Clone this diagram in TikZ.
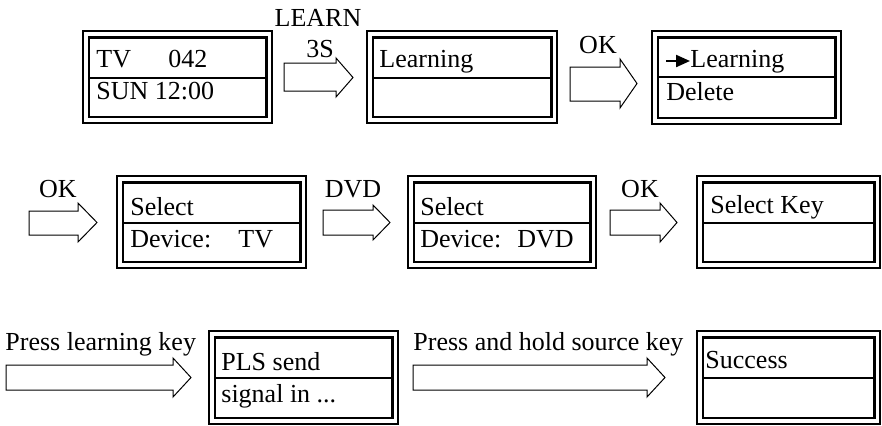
\documentclass[tikz,border=0pt]{standalone}
\usepackage{fontspec}
\setmainfont{Liberation Serif}
\usetikzlibrary{arrows.meta,fit}
\tikzset{
  outerln/.style={draw=black, line width=0.7pt},
  innerln/.style={draw=black, line width=1.1pt},
  divln/.style={draw=black, line width=1.0pt},
  blockarrow/.style={draw=black, line width=0.5pt, line join=miter},
  lbl/.style={inner sep=0pt, anchor=base, font=\fontsize{13}{15}\selectfont, text=black},
  txt/.style={inner sep=0pt, anchor=base west, font=\fontsize{13}{15}\selectfont, text=black},
}
% name, x1, y1, x2, y2, ydiv
\newcommand\lcdbox[6]{%
  \coordinate (#1-nw) at (#2,#3);
  \coordinate (#1-se) at (#4,#5);
  \node[fit=(#1-nw)(#1-se), inner sep=0pt, outer sep=0pt, outerln] (#1) {};
  \draw[innerln] ({#2+6},{#3+6.5}) rectangle ({#4-5.5},{#5-6});
  \draw[divln] ({#2+6},#6) -- ({#4-5.5},#6);
}
% left, bodyright, tip, bodytop, bodybottom, headtop, headbottom
\newcommand\barrow[7]{%
  \draw[blockarrow] (#1,#4) -- (#2,#4) -- (#2,#6) -- (#3,{(#6+#7)/2}) -- (#2,#7) -- (#2,#5) -- (#1,#5) -- cycle;
}
\begin{document}
\begin{tikzpicture}[x=0.5pt,y=-0.5pt]
\useasboundingbox (0,0) rectangle (882,425);
% boxes
\lcdbox{b1}{83}{31}{272}{123}{78}
\lcdbox{b2}{367}{31}{557}{123}{78}
\lcdbox{b3}{652}{31}{841}{124}{77}
\lcdbox{b4}{117}{176}{306}{268}{223}
\lcdbox{b5}{408}{176}{596}{268}{223}
\lcdbox{b6}{697}{176}{880}{268}{223}
\lcdbox{b7}{209}{331}{398}{424}{378}
\lcdbox{b8}{697}{331}{880}{424}{378}
% box texts
\node[txt] (t1a) at (96,67) {TV};
\node[txt] (t1b) at (168,67) {042};
\node[txt] (t1c) at (96,99) {SUN 12:00};
\node[txt] (t2a) at (379,67) {Learning};
\coordinate (sa1) at (666,61);
\coordinate (sa2) at (690,61);
\draw[line width=1.1pt, -{Triangle[length=7pt,width=6pt]}] (sa1) -- (sa2);
\node[txt] (t3a) at (690,67) {Learning};
\node[txt] (t3b) at (666,100) {Delete};
\node[txt] (t4a) at (130,215) {Select};
\node[txt] (t4b) at (130,247) {Device:};
\node[txt] (t4c) at (238,247) {TV};
\node[txt] (t5a) at (420,215) {Select};
\node[txt] (t5b) at (420,247) {Device:};
\node[txt] (t5c) at (517,247) {DVD};
\node[txt] (t6a) at (710,213) {Select Key};
\node[txt] (t7a) at (221,370) {PLS send};
\node[txt] (t7b) at (221,402) {signal in ...};
\node[txt] (t8a) at (705,368) {Success};
% block arrows
\barrow{284}{336}{353}{63}{91}{58}{97}
\barrow{570}{620}{637}{67}{101}{59}{108}
\barrow{29}{78}{97}{211}{235}{203}{242}
\barrow{323}{373}{390}{210}{235}{205}{240}
\barrow{610}{660}{677}{210}{235}{203}{242}
\barrow{6}{173}{191}{365}{390}{358}{397}
\barrow{413}{647}{665}{365}{390}{358}{397}
% arrow labels
\node[lbl] (l1) at (318,26) {LEARN};
\node[lbl] (l2) at (320,57) {3S};
\node[lbl] (l3) at (598,53) {OK};
\node[lbl] (l4) at (58,197) {OK};
\node[lbl] (l5) at (353,197) {DVD};
\node[lbl] (l6) at (640,197) {OK};
\node[txt] (l7) at (5,350) {Press learning key};
\node[txt] (l8) at (413,350) {Press and hold source key};
\end{tikzpicture}
\end{document}
